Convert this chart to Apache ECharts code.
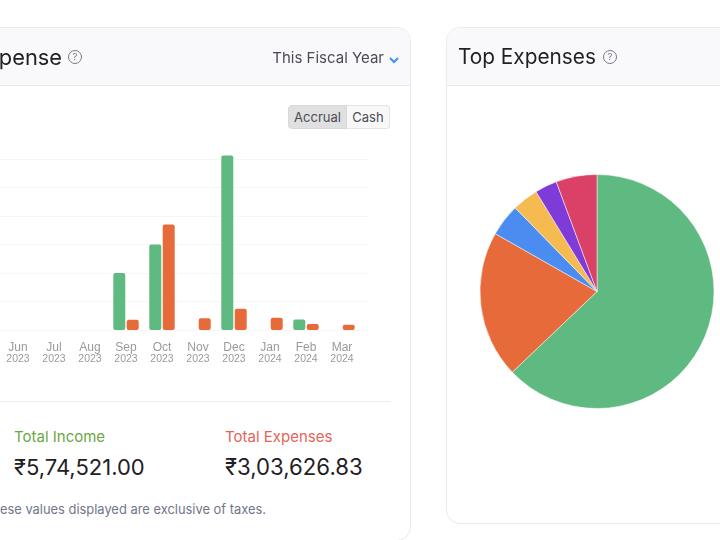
<!DOCTYPE html>
<html>
<head>
<meta charset="utf-8">
<script src="https://cdn.jsdelivr.net/npm/echarts@6/dist/echarts.min.js"></script>
<style>
html,body{margin:0;padding:0;width:720px;height:540px;overflow:hidden;background:#fff;font-family:Inter,"Noto Sans",sans-serif;color:#1f2024}
.abs{position:absolute;white-space:nowrap}
.card{position:absolute;box-sizing:border-box;border:1px solid #e9e9ef;border-radius:14px;background:#fff;overflow:hidden}
.head{position:absolute;left:0;right:0;top:0;height:57px;background:#f9f9fb;border-bottom:1px solid #e9e9ef}
.title{font-size:20.8px;line-height:30px;color:#1f2024}
.help{box-sizing:border-box;width:14px;height:14px;border:1px solid #77798a;border-radius:50%;font-size:9.5px;line-height:12px;text-align:center;color:#77798a}
#bars{position:absolute;left:-100px;top:0;width:511px;height:400px}
#pie{position:absolute;left:447px;top:86px;width:273px;height:437px}
</style>
</head>
<body>
<div class="card" style="left:-400px;top:27px;width:811px;height:514px"><div class="head"></div></div>
<div class="card" style="left:446px;top:27px;width:320px;height:497px"><div class="head"></div></div>

<div id="bars"></div>
<div id="pie"></div>

<div class="abs title" style="right:658px;top:42px;font-size:21.8px">Income and Expense</div>
<div class="abs help" style="left:68px;top:50px">?</div>
<div class="abs" style="right:336px;top:49px;font-size:15px;line-height:18px;color:#4a4c55">This Fiscal Year</div>
<svg class="abs" style="left:389px;top:57px" width="10" height="7"><path d="M1 1 L5 5 L9 1" fill="none" stroke="#408dfb" stroke-width="2"/></svg>

<div class="abs" style="left:288px;top:105px;width:59px;height:24px;box-sizing:border-box;background:#e0e0e0;border:1px solid #d8d8d8;border-radius:4px 0 0 4px;font-size:13px;line-height:22px;text-align:center;color:#4a4c55">Accrual</div>
<div class="abs" style="left:347px;top:105px;width:43px;height:24px;box-sizing:border-box;background:#f8f8f8;border:1px solid #e4e4e4;border-left:0;border-radius:0 4px 4px 0;font-size:13px;line-height:22px;text-align:center;color:#4a4c55">Cash</div>

<div class="abs" style="left:0;top:401px;width:391px;height:1px;background:#ececec"></div>
<div class="abs" style="left:14px;top:428px;font-size:15px;line-height:18px;color:#6ba644">Total Income</div>
<div class="abs" style="left:14px;top:453px;font-size:22px;line-height:28px;color:#1f2024">₹5,74,521.00</div>
<div class="abs" style="left:225px;top:428px;font-size:15px;line-height:18px;color:#e5645a">Total Expenses</div>
<div class="abs" style="left:225px;top:453px;font-size:22.2px;line-height:28px;color:#1f2024">₹3,03,626.83</div>
<div class="abs" style="right:454px;top:501px;font-size:12.9px;line-height:17px;color:#73768a">These values displayed are exclusive of taxes.</div>

<div class="abs title" style="left:458px;top:42px">Top Expenses</div>
<div class="abs help" style="left:603px;top:50px">?</div>

<script>
var months = ['Apr','May','Jun','Jul','Aug','Sep','Oct','Nov','Dec','Jan','Feb','Mar'];
var years = ['2023','2023','2023','2023','2023','2023','2023','2023','2023','2024','2024','2024'];
var income = [0,0,0,0,0,100000,150000,0,306000,0,18521,0];
var expenses = [0,0,0,0,0,18000,185000,20500,37500,21600,10500,9000];
var yTicks = {min:0,max:300000,interval:50000};

var expenseValues = [190950,61750,13500,10950,9300,17176];
var expenseColors = ['#5fba82','#e76b3a','#4a8cf0','#f5ba50','#7e3bd8','#db4066'];

var green = '#5fba82', orange = '#e76b3a';

var labels = months.map(function(m,i){ return m + '\n' + years[i]; });

var barChart = echarts.init(document.getElementById('bars'));
barChart.setOption({
    animation:false,
    textStyle:{fontFamily:'Inter'},
    grid:[
        // bars: each month band is 36px wide, chart div starts 100px left of the page
        {left:28,width:432,top:159,height:171},
        // gridlines run a little past the last band
        {left:28,width:440,top:159,height:171}
    ],
    xAxis:[
        {
            type:'category',gridIndex:0,data:labels,
            axisLine:{show:false},axisTick:{show:false},
            axisLabel:{
                interval:0,margin:11,
                formatter:function(v){
                    var p=v.split('\n');
                    return '{m|'+p[0]+'}\n{y|'+p[1]+'}';
                },
                rich:{
                    m:{fontSize:12,lineHeight:13,color:'#9a9a9a',fontFamily:'Liberation Sans'},
                    y:{fontSize:10.5,lineHeight:11,color:'#9a9a9a',fontFamily:'Liberation Sans'}
                }
            }
        },
        {type:'category',gridIndex:1,data:labels,show:false}
    ],
    yAxis:[
        {type:'value',gridIndex:0,min:yTicks.min,max:yTicks.max,interval:yTicks.interval,
            axisLabel:{show:false},axisLine:{show:false},axisTick:{show:false},splitLine:{show:false}},
        {type:'value',gridIndex:1,min:yTicks.min,max:yTicks.max,interval:yTicks.interval,
            axisLabel:{show:false},axisLine:{show:false},axisTick:{show:false},
            splitLine:{show:true,lineStyle:{color:'#f6f6f6',width:1}}}
    ],
    series:[
        {name:'Income',type:'bar',xAxisIndex:0,yAxisIndex:0,data:income,clip:false,barWidth:12,barGap:'12%',
            itemStyle:{color:green,borderRadius:2}},
        {name:'Expenses',type:'bar',xAxisIndex:0,yAxisIndex:0,data:expenses,clip:false,barWidth:12,barGap:'12%',
            itemStyle:{color:orange,borderRadius:2}}
    ]
});

var pieChart = echarts.init(document.getElementById('pie'));
pieChart.setOption({
    animation:false,
    series:[{
        type:'pie',
        center:[150,205.5],
        radius:[0,117],
        startAngle:90,
        clockwise:true,
        label:{show:false},
        labelLine:{show:false},
        silent:true,
        itemStyle:{borderColor:'#fff',borderWidth:0.5},
        data:expenseValues.map(function(v,i){
            return {value:v,itemStyle:{color:expenseColors[i]}};
        })
    }]
});
</script>
</body>
</html>
